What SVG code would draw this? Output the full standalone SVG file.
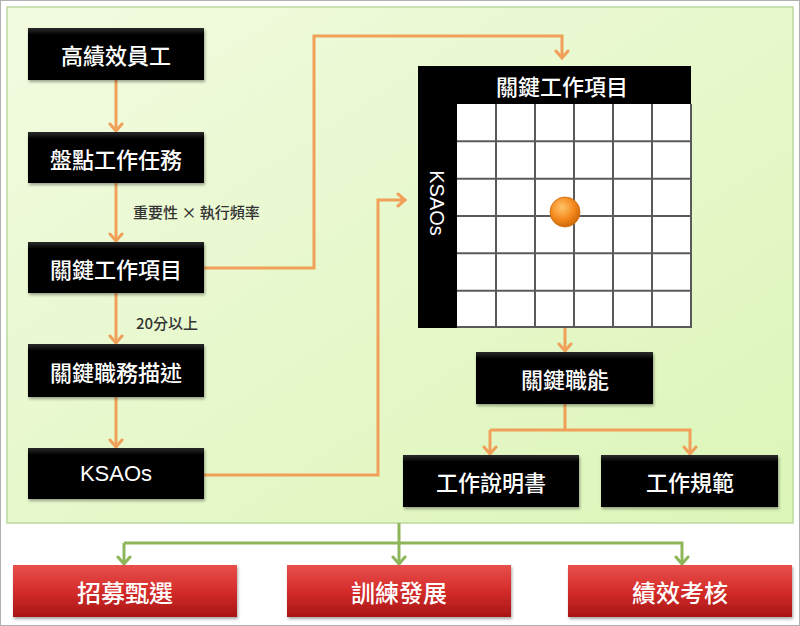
<svg xmlns="http://www.w3.org/2000/svg" width="800" height="626" viewBox="0 0 800 626">
  <defs>
    <linearGradient id="panel" x1="0" y1="0" x2="1" y2="1">
      <stop offset="0" stop-color="#f2fbe0"/>
      <stop offset="1" stop-color="#dcf5b8"/>
    </linearGradient>
    <linearGradient id="blk" x1="0" y1="0" x2="0" y2="1">
      <stop offset="0" stop-color="#2a2a2a"/>
      <stop offset="0.12" stop-color="#050505"/>
      <stop offset="1" stop-color="#000"/>
    </linearGradient>
    <linearGradient id="red" x1="0" y1="0" x2="0" y2="1">
      <stop offset="0" stop-color="#e9504c"/>
      <stop offset="0.5" stop-color="#d42c2a"/>
      <stop offset="1" stop-color="#a81616"/>
    </linearGradient>
    <radialGradient id="ball" cx="0.4" cy="0.35" r="0.65">
      <stop offset="0" stop-color="#ffc46a"/>
      <stop offset="0.6" stop-color="#f58a1e"/>
      <stop offset="1" stop-color="#d06a0a"/>
    </radialGradient>
    <filter id="sh" x="-10%" y="-20%" width="120%" height="150%">
      <feDropShadow dx="1" dy="2" stdDeviation="1.5" flood-color="#000" flood-opacity="0.35"/>
    </filter>
    <marker id="ao" viewBox="-2 -9 12 18" markerWidth="12" markerHeight="18" refX="7" refY="0" orient="auto" markerUnits="userSpaceOnUse">
      <path d="M0,-6 L7,0 L0,6" fill="none" stroke="#f0a058" stroke-width="3" stroke-linecap="round"/>
    </marker>
    <marker id="ag" viewBox="-2 -9 12 18" markerWidth="12" markerHeight="18" refX="7" refY="0" orient="auto" markerUnits="userSpaceOnUse">
      <path d="M0,-6 L7,0 L0,6" fill="none" stroke="#8db55a" stroke-width="3" stroke-linecap="round"/>
    </marker>
  </defs>
  <style>
    .b{fill:url(#blk);filter:url(#sh)}
    .r{fill:url(#red);filter:url(#sh)}
    .t{font-family:"Noto Sans CJK TC","Noto Sans",sans-serif;font-size:22px;font-weight:500;fill:#fff;text-anchor:middle;dominant-baseline:central}
    .rt{font-family:"Noto Sans CJK TC","Noto Sans",sans-serif;font-size:24px;font-weight:500;fill:#fff;text-anchor:middle;dominant-baseline:central}
    .lb{font-family:"Noto Sans CJK TC","Noto Sans",sans-serif;font-size:15px;font-weight:500;fill:#333;dominant-baseline:central}
    .o{fill:none;stroke:#f0a058;stroke-width:3}
    .g{fill:none;stroke:#8db55a;stroke-width:3}
    .grid{stroke:#5a5a5a;stroke-width:2}
  </style>
  <rect x="0.5" y="0.5" width="799" height="625" fill="#fff" stroke="#b0b0b0"/>
  <rect id="panel-bg" x="7" y="7" width="786" height="516" fill="url(#panel)" stroke="#bcd9a0" stroke-width="1.5"/>

  <g id="connectors">
    <line class="o" x1="116" y1="80" x2="116" y2="131" marker-end="url(#ao)"/>
    <line class="o" x1="116" y1="183" x2="116" y2="241" marker-end="url(#ao)"/>
    <line class="o" x1="116" y1="293" x2="116" y2="343" marker-end="url(#ao)"/>
    <line class="o" x1="116" y1="397" x2="116" y2="447" marker-end="url(#ao)"/>
    <polyline class="o" points="204,268 314,268 314,36 562,36 562,58" marker-end="url(#ao)"/>
    <polyline class="o" points="204,475 378,475 378,200 405,200" marker-end="url(#ao)"/>
    <line class="o" x1="565" y1="222" x2="565" y2="351" marker-end="url(#ao)"/>
    <line class="o" x1="565" y1="404" x2="565" y2="430"/>
    <polyline class="o" points="490,430 690,430 690,454" marker-end="url(#ao)"/>
    <line class="o" x1="490" y1="430" x2="490" y2="454" marker-end="url(#ao)"/>
    <line class="g" x1="399" y1="523" x2="399" y2="564" marker-end="url(#ag)"/>
    <polyline class="g" points="124,543 682,543 682,564" marker-end="url(#ag)"/>
    <line class="g" x1="124" y1="543" x2="124" y2="564" marker-end="url(#ag)"/>
  </g>

  <text class="lb" x="133" y="211">重要性 × 執行頻率</text>
  <text class="lb" x="136" y="322">20分以上</text>

  <g id="n1"><rect class="b" x="28" y="28" width="176" height="52"/><text class="t" x="116" y="54">高績效員工</text></g>
  <g id="n2"><rect class="b" x="28" y="132" width="176" height="51"/><text class="t" x="116" y="157.5">盤點工作任務</text></g>
  <g id="n3"><rect class="b" x="28" y="242" width="176" height="51"/><text class="t" x="116" y="267.5">關鍵工作項目</text></g>
  <g id="n4"><rect class="b" x="28" y="344" width="176" height="53"/><text class="t" x="116" y="370.5">關鍵職務描述</text></g>
  <g id="n5"><rect class="b" x="28" y="448" width="176" height="51"/><text class="t" x="116" y="473.5" style="font-family:'Liberation Sans',sans-serif">KSAOs</text></g>

  <g id="matrix">
    <rect x="418" y="66" width="273" height="262" fill="#000"/>
    <rect x="457" y="104" width="234" height="224" fill="#fff"/>
    <g class="grid">
      <line x1="496" y1="104" x2="496" y2="328"/>
      <line x1="535" y1="104" x2="535" y2="328"/>
      <line x1="574" y1="104" x2="574" y2="328"/>
      <line x1="613" y1="104" x2="613" y2="328"/>
      <line x1="652" y1="104" x2="652" y2="328"/>
      <line x1="691" y1="104" x2="691" y2="328"/>
      <line x1="457" y1="141.3" x2="691" y2="141.3"/>
      <line x1="457" y1="178.7" x2="691" y2="178.7"/>
      <line x1="457" y1="216" x2="691" y2="216"/>
      <line x1="457" y1="253.3" x2="691" y2="253.3"/>
      <line x1="457" y1="290.7" x2="691" y2="290.7"/>
      <line x1="457" y1="327" x2="691" y2="327"/>
    </g>
    <text class="t" x="562" y="85">關鍵工作項目</text>
    <text class="t" x="0" y="0" transform="translate(437,203) rotate(90)" style="font-family:'Liberation Sans',sans-serif;font-size:20px">KSAOs</text>
  </g>
  <g id="ball"><circle cx="565" cy="212" r="15" fill="url(#ball)" stroke="#c86a10" stroke-width="0.8"/></g>

  <g id="n6"><rect class="b" x="476" y="352" width="177" height="52"/><text class="t" x="565" y="378">關鍵職能</text></g>
  <g id="n7"><rect class="b" x="403" y="455" width="176" height="52"/><text class="t" x="491" y="481">工作說明書</text></g>
  <g id="n8"><rect class="b" x="601" y="455" width="177" height="52"/><text class="t" x="690" y="481">工作規範</text></g>

  <g id="r1"><rect class="r" x="13" y="565" width="224" height="52"/><text class="rt" x="125" y="591">招募甄選</text></g>
  <g id="r2"><rect class="r" x="287" y="565" width="224" height="52"/><text class="rt" x="399" y="591">訓練發展</text></g>
  <g id="r3"><rect class="r" x="568" y="565" width="224" height="52"/><text class="rt" x="680" y="591">績效考核</text></g>
</svg>
